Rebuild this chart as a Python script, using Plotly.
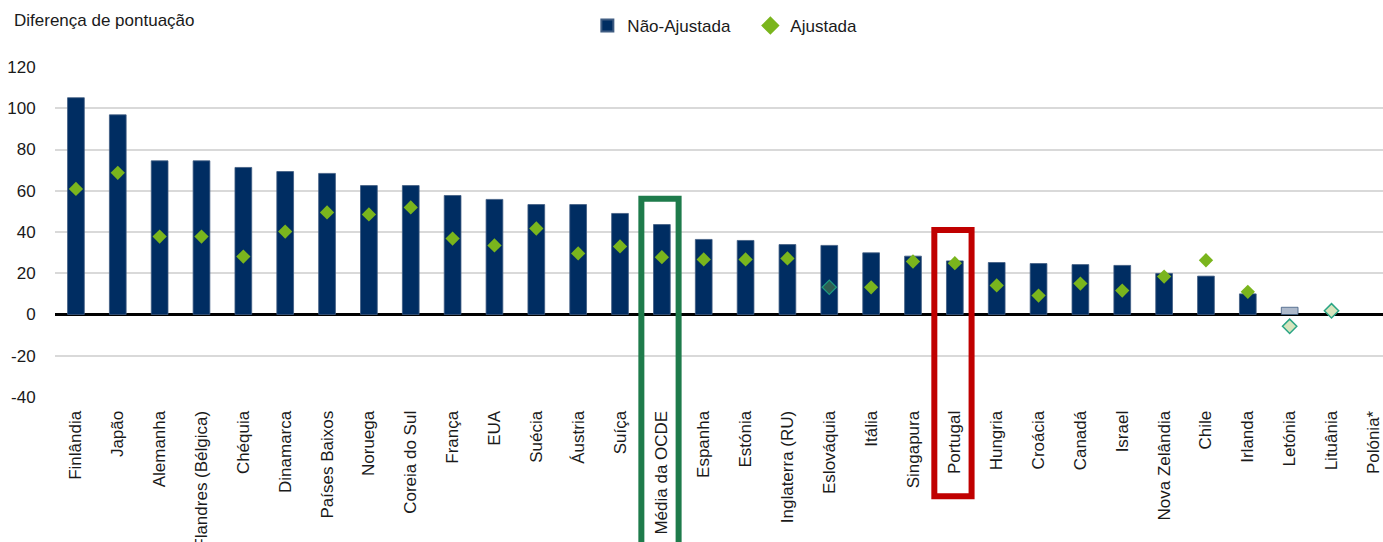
import plotly.graph_objects as go

categories = ["Finlândia", "Japão", "Alemanha", "Flandres (Bélgica)", "Chéquia", "Dinamarca",
              "Países Baixos", "Noruega", "Coreia do Sul", "França", "EUA", "Suécia", "Áustria",
              "Suíça", "Média da OCDE", "Espanha", "Estónia", "Inglaterra (RU)", "Eslováquia",
              "Itália", "Singapura", "Portugal", "Hungria", "Croácia", "Canadá", "Israel",
              "Nova Zelândia", "Chile", "Irlanda", "Letónia", "Lituânia", "Polónia*"]
nao_ajustada = [105.1, 96.8, 74.5, 74.5, 71.3, 69.3, 68.4, 62.5, 62.5, 57.7, 55.8, 53.3, 53.3,
                49.0, 43.6, 36.4, 35.9, 33.9, 33.5, 29.9, 28.3, 26.0, 25.2, 24.7, 24.2, 23.8,
                19.9, 18.6, 10.0, 3.5, None, None]
ajustada = [60.9, 68.7, 37.8, 37.8, 28.1, 40.2, 49.5, 48.5, 51.9, 36.8, 33.5, 41.7, 29.6,
            33.0, 27.8, 26.7, 26.7, 27.2, 13.2, 13.2, 25.7, 24.9, 14.1, 9.2, 15.0, 11.6,
            18.4, 26.3, 11.0, -5.7, 1.8, None]
y_ticks = [-40, -20, 0, 20, 40, 60, 80, 100, 120]
y_ticktext = ["-40", "-20", "0", "20", "40", "60", "80", "100", "120"]

NAVY = "#002D62"
GREEN = "#7AB51D"

# per-point styles (non-significant / special cases)
bar_colors = ["#ADB9CB" if c == "Letónia" else NAVY for c in categories]
dia_fill, dia_line, dia_lw = [], [], []
for c in categories:
    if c == "Eslováquia":
        dia_fill.append("#2F5F52"); dia_line.append("#1E9A80"); dia_lw.append(1.2)
    elif c in ("Letónia", "Lituânia"):
        dia_fill.append("#D7E4BD"); dia_line.append("#2AA585"); dia_lw.append(1.5)
    else:
        dia_fill.append(GREEN); dia_line.append(GREEN); dia_lw.append(0)

fig = go.Figure()
fig.add_trace(go.Bar(
    x=categories, y=nao_ajustada, name="Não-Ajustada",
    marker=dict(color=bar_colors, line=dict(color="#3F5C82", width=0.8)),
    width=0.4,
))
fig.add_trace(go.Scatter(
    x=categories, y=ajustada, name="Ajustada", mode="markers",
    marker=dict(symbol="diamond", size=11, color=dia_fill,
                line=dict(color=dia_line, width=dia_lw)),
))

idx_ocde = categories.index("Média da OCDE")
idx_pt = categories.index("Portugal")
fig.add_shape(type="rect", xref="x", yref="paper",
              x0=idx_ocde - 0.49, x1=idx_ocde + 0.4, y0=-0.6, y1=0.601,
              line=dict(color="#1E7B4B", width=6), fillcolor="rgba(0,0,0,0)", layer="above")
fig.add_shape(type="rect", xref="x", yref="paper",
              x0=idx_pt - 0.49, x1=idx_pt + 0.4, y0=-0.301, y1=0.506,
              line=dict(color="#C00000", width=6), fillcolor="rgba(0,0,0,0)", layer="above")

fig.add_annotation(text="Diferença de pontuação", xref="paper", yref="paper",
                   x=-0.0322, y=1.14, xanchor="left", yanchor="middle", showarrow=False,
                   font=dict(size=17, color="#1A1A1A"))

fig.update_layout(
    width=1383, height=542,
    margin=dict(l=55, r=0, t=67, b=145, pad=0, autoexpand=False),
    paper_bgcolor="white", plot_bgcolor="white",
    font=dict(family="Liberation Sans, Arial, sans-serif", color="#1A1A1A", size=17),
    showlegend=True,
    legend=dict(orientation="h", xref="container", yref="container",
                x=0.4247, y=0.952, xanchor="left", yanchor="middle",
                entrywidth=118, entrywidthmode="pixels",
                font=dict(size=17), bgcolor="rgba(0,0,0,0)", itemsizing="constant"),
    bargap=0.6,
)
fig.update_xaxes(
    type="category", range=[-0.5, 31.23], tickangle=-90, automargin=False,
    tickfont=dict(size=17), showgrid=False, showline=False, zeroline=False,
    ticks="outside", ticklen=6, tickcolor="rgba(0,0,0,0)",
)
fig.update_yaxes(
    range=[-40, 120], tickvals=y_ticks, ticktext=y_ticktext, tickfont=dict(size=17),
    automargin=False,
    showgrid=True, gridcolor="#D9D9D9", gridwidth=1.5,
    zeroline=True, zerolinecolor="black", zerolinewidth=3,
    showline=False, ticks="outside", ticklen=15, tickcolor="rgba(0,0,0,0)",
)

fig.write_html("out.html")
